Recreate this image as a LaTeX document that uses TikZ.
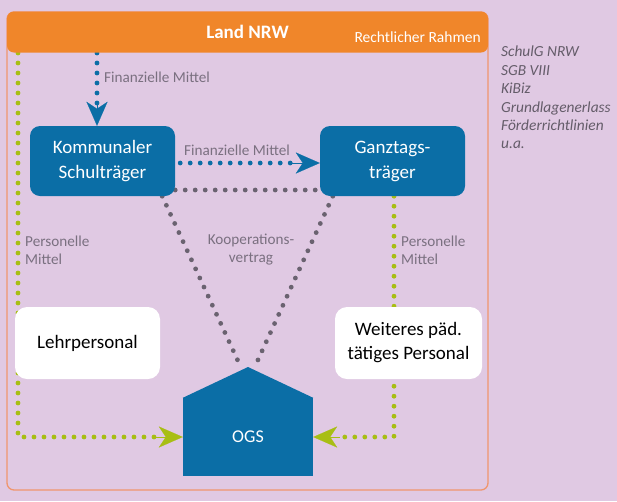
\documentclass[tikz,border=0pt]{standalone}
\usepackage{fontspec}
\setmainfont{Carlito}
\usetikzlibrary{arrows.meta,calc}
\definecolor{bgc}{RGB}{224,201,227}
\definecolor{nrwor}{RGB}{240,134,42}
\definecolor{frameor}{RGB}{240,150,110}
\definecolor{ogsblue}{RGB}{11,110,166}
\definecolor{dotgreen}{RGB}{168,190,20}
\definecolor{dotgray}{RGB}{106,98,112}
\definecolor{labgray}{RGB}{122,112,128}
\definecolor{listgray}{RGB}{100,92,105}
\pgfdeclarelayer{back}
\pgfdeclarelayer{lines}
\pgfsetlayers{back,lines,main}
\begin{document}
\begin{tikzpicture}[x=1pt,y=-1pt,
  dots/.style={line cap=round,dash pattern=on 0pt off 10pt,line width=4.8pt},
  bigtip/.style={-{Stealth[length=24pt,width=21pt,inset=7pt]}},
  bluebox/.style={fill=ogsblue,rounded corners=10pt,minimum width=145pt,minimum height=70pt,
    text=white,font=\fontsize{19}{25}\selectfont,align=center,inner sep=0pt},
  whitebox/.style={fill=white,rounded corners=12pt,minimum height=72pt,
    text=black,font=\fontsize{19}{24}\selectfont,align=center,inner sep=0pt},
  lab/.style={text=labgray,font=\fontsize{15.2}{18}\selectfont,inner sep=0pt,align=left}]
\useasboundingbox (0,0) rectangle (617,501);
\begin{pgfonlayer}{back}
  \fill[bgc] (0,0) rectangle (617,501);
  \draw[frameor,line width=1.3pt,rounded corners=7pt] (7,12) rectangle (488,490);
\end{pgfonlayer}

% nodes
\node[fill=nrwor,rounded corners=7pt,minimum width=481pt,minimum height=41pt,inner sep=0pt,
  text=white,font=\bfseries\fontsize{19}{22}\selectfont] (nrw) at (247.5,32) {Land NRW};
\node[anchor=east,text=white,font=\fontsize{15.5}{18}\selectfont,inner sep=0pt] (rahmen) at (481,37) {Rechtlicher Rahmen};
\node[bluebox] (kom) at (102.5,161) {Kommunaler\\Schulträger};
\node[bluebox] (gan) at (392.5,161) {Ganztags-\\träger};
\node[whitebox,minimum width=145pt] (lehr) at (87.5,343) {Lehrpersonal};
\node[whitebox,minimum width=147pt] (weit) at (408.5,343) {Weiteres päd.\\tätiges Personal};
\node[fill=ogsblue,minimum width=130pt,minimum height=78pt,inner sep=0pt,text=white,
  font=\fontsize{18}{20}\selectfont] (ogs) at (248,437) {OGS};
\coordinate (apex) at (248,367);
\fill[ogsblue] (ogs.north west) -- (apex) -- (ogs.north east) -- cycle;

\node[anchor=north west,text=listgray,font=\itshape\fontsize{15.4}{18.4}\selectfont,align=left,inner sep=0pt] (list) at (501,46)
  {SchulG NRW\\SGB VIII\\KiBiz\\Grundlagenerlass\\Förderrichtlinien\\u.a.};

% labels
\node[lab,anchor=west] (lf1) at (104,77) {Finanzielle Mittel};
\node[lab] (lf2) at (237,150) {Finanzielle Mittel};
\node[lab,align=center] (lk) at (251,250) {Kooperations-\\vertrag};
\node[lab,anchor=west] (lp1) at (25,250) {Personelle\\Mittel};
\node[lab,anchor=west] (lp2) at (401,250) {Personelle\\Mittel};

% connectors
\coordinate (btop) at (97,53);
\coordinate (gtop) at (18,53);
\coordinate (kl) at (238,361);
\coordinate (kr) at (257,362);
\begin{pgfonlayer}{lines}
  \draw[ogsblue,dots] (btop) -- (97,108);
  \draw[ogsblue,bigtip,line width=0.1pt] (97,104) -- (btop |- kom.north);
  \draw[ogsblue,dots] ($(kom.east)+(5,2)$) -- ($(gan.west)+(-26,2)$);
  \draw[ogsblue,bigtip,line width=0.1pt] ($(gan.west)+(-28,2)$) -- ($(gan.west)+(0,2)$);
  \draw[dotgray,dots] ($(kom.east)+(0,29)$) -- ($(gan.west)+(0,29)$);
  \draw[dotgray,dots] ($(kom.south east)+(-13,0)$) -- (kl);
  \draw[dotgray,dots] ($(gan.south west)+(13,0)$) -- (kr);
  \draw[dotgreen,dots] (gtop) |- ($(ogs.west)+(-24,0)$);
  \draw[dotgreen,bigtip,line width=0.1pt] ($(ogs.west)+(-27,0)$) -- (ogs.west);
  \draw[dotgreen,dots] ($(gan.south)+(1.5,0)$) |- ($(ogs.east)+(24,0)$);
  \draw[dotgreen,bigtip,line width=0.1pt] ($(ogs.east)+(27,0)$) -- (ogs.east);
\end{pgfonlayer}
\end{tikzpicture}
\end{document}
